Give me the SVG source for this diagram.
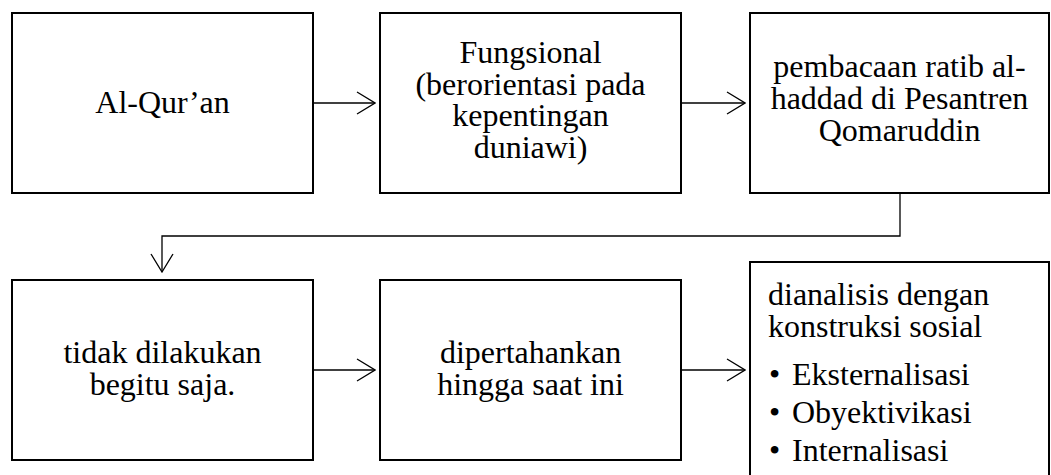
<svg xmlns="http://www.w3.org/2000/svg" width="1051" height="475" viewBox="0 0 1051 475">
<style>
.box{fill:#fff;stroke:#000;stroke-width:2}
.t{font-size:32px;fill:#000}
.c{text-anchor:middle}
.ln{fill:none;stroke:#000;stroke-width:1.3}
</style>
<defs>
<marker id="ah" viewBox="0 0 20 24" refX="19" refY="12" markerWidth="20" markerHeight="24" markerUnits="userSpaceOnUse" orient="auto">
<path d="M1,1 L19,12 L1,23" fill="none" stroke="#000" stroke-width="1.3"/>
</marker>
</defs>
<rect width="1051" height="475" fill="#fff"/>
<g id="connectors">
<path class="ln" d="M313,103 H375" marker-end="url(#ah)"/>
<path class="ln" d="M681,103 H745" marker-end="url(#ah)"/>
<path class="ln" d="M900,193 V236 H162 V272" marker-end="url(#ah)"/>
<path class="ln" d="M313,370 H375" marker-end="url(#ah)"/>
<path class="ln" d="M681,370 H745" marker-end="url(#ah)"/>
</g>
<g font-family="'Liberation Serif', 'Times New Roman', Times, serif">
<g id="n1">
<rect class="box" x="12" y="13" width="301" height="180"/>
<text class="t c" x="162.5" y="113">Al-Qur’an</text>
</g>
<g id="n2">
<rect class="box" x="380" y="13" width="301" height="180"/>
<text class="t c" x="530.5" y="63">Fungsional</text>
<text class="t c" x="530.5" y="95">(berorientasi pada</text>
<text class="t c" x="530.5" y="126">kepentingan</text>
<text class="t c" x="530.5" y="158">duniawi)</text>
</g>
<g id="n3">
<rect class="box" x="750" y="13" width="299" height="180"/>
<text class="t c" x="899.5" y="77">pembacaan ratib al-</text>
<text class="t c" x="899.5" y="109">haddad di Pesantren</text>
<text class="t c" x="899.5" y="141">Qomaruddin</text>
</g>
<g id="n4">
<rect class="box" x="12" y="280" width="301" height="180"/>
<text class="t c" x="162.5" y="363">tidak dilakukan</text>
<text class="t c" x="162.5" y="395">begitu saja.</text>
</g>
<g id="n5">
<rect class="box" x="380" y="280" width="301" height="180"/>
<text class="t c" x="530.5" y="363">dipertahankan</text>
<text class="t c" x="530.5" y="395">hingga saat ini</text>
</g>
<g id="n6">
<rect class="box" x="750" y="262" width="299" height="230"/>
<text class="t" x="768" y="305">dianalisis dengan</text>
<text class="t" x="768" y="337">konstruksi sosial</text>
<text class="t" x="769" y="385">•</text>
<text class="t" x="792" y="385">Eksternalisasi</text>
<text class="t" x="769" y="423">•</text>
<text class="t" x="792" y="423">Obyektivikasi</text>
<text class="t" x="769" y="461">•</text>
<text class="t" x="792" y="461">Internalisasi</text>
</g>
</g>
</svg>
